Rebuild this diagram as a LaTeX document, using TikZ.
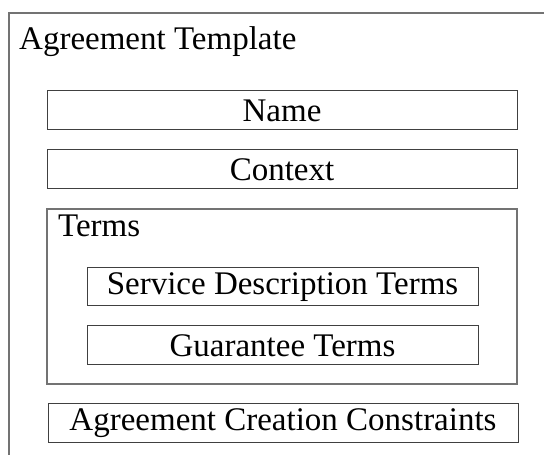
\documentclass[tikz,border=0pt]{standalone}
\usepackage{fontspec}
\setmainfont{Liberation Serif}
\begin{document}
\begin{tikzpicture}[x=1pt,y=1pt,
  box/.style={draw=black!75,line width=1pt,inner sep=0pt,minimum width=470pt,minimum height=39pt,font=\fontsize{33}{38}\selectfont},
  graybox/.style={draw=black!55,line width=1.2pt,inner sep=0pt},
  lbl/.style={inner sep=0pt,anchor=base west,font=\fontsize{33}{38}\selectfont}]
\useasboundingbox (0,0) rectangle (544,455);
\coordinate (obl) at (9,0);
\coordinate (otl) at (9,442);
\coordinate (otr) at (544,442);
\draw[black!55,line width=1.4pt] (obl) -- (otl) -- (otr);
\node[lbl] (title) at (19,405) {Agreement Template};
\node[box] (name) at (282,344.5) {Name};
\node[box] (context) at (282,285.5) {Context};
\node[graybox,minimum width=470pt,minimum height=175pt] (terms) at (282,158.5) {};
\node[lbl] (termslbl) at (58,218) {Terms};
\node[box,minimum width=391pt,minimum height=38pt] (sdt) at (282.5,168) {Service Description Terms};
\node[box,minimum width=391pt] (gt) at (282.5,109.5) {Guarantee Terms};
\node[box] (acc) at (283,31.5) {Agreement Creation Constraints};
\end{tikzpicture}
\end{document}
